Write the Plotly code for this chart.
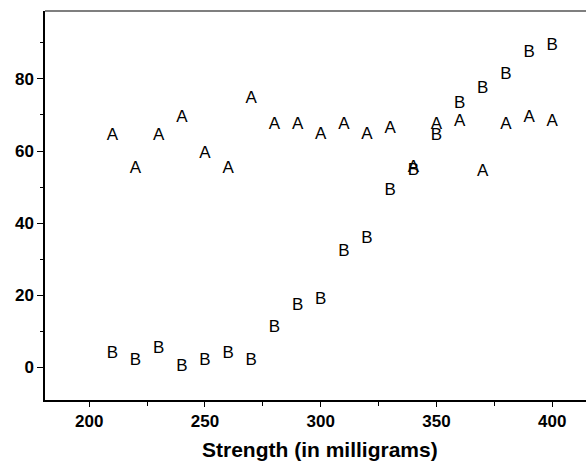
import plotly.graph_objects as go

strength = [210, 220, 230, 240, 250, 260, 270, 280, 290, 300,
            310, 320, 330, 340, 350, 360, 370, 380, 390, 400]
group_a = [64.3, 55.0, 64.3, 69.1, 59.2, 55.0, 74.4, 67.2, 67.2, 64.4,
           67.2, 64.4, 66.3, 55.5, 67.2, 68.1, 54.3, 67.2, 69.1, 68.1]
group_b = [3.9, 2.0, 5.2, 0.2, 2.0, 3.9, 2.0, 11.0, 17.2, 18.9,
           32.0, 35.7, 49.0, 54.5, 64.3, 73.2, 77.2, 81.1, 87.2, 89.3]
x_ticks = [200, 250, 300, 350, 400]
y_ticks = [0, 20, 40, 60, 80]
x_title = "Strength (in milligrams)"

FONT = "Liberation Sans, Arial, sans-serif"

fig = go.Figure()
fig.add_trace(go.Scatter(x=strength, y=group_a, mode="text", text=["A"] * len(strength),
                         textposition="middle center",
                         textfont=dict(family=FONT, size=17, color="black"),
                         showlegend=False, hoverinfo="skip"))
fig.add_trace(go.Scatter(x=strength, y=group_b, mode="text", text=["B"] * len(strength),
                         textposition="middle center",
                         textfont=dict(family=FONT, size=17, color="black"),
                         showlegend=False, hoverinfo="skip"))

fig.update_layout(
    width=586, height=461,
    margin=dict(l=45, r=0, t=11, b=61, autoexpand=False),
    plot_bgcolor="white", paper_bgcolor="white",
    font=dict(family=FONT, color="black"),
    showlegend=False,
    xaxis=dict(range=[180.9, 414.6], tickvals=x_ticks, automargin=False,
               ticktext=["<b>%d</b>" % v for v in x_ticks],
               tickfont=dict(size=17, family=FONT, color="black"),
               showgrid=False, zeroline=False,
               showline=True, linecolor="black", linewidth=2,
               ticks="outside", ticklen=5, tickcolor="black", tickwidth=1,
               minor=dict(dtick=25, tick0=0, ticks="outside", ticklen=4,
                          tickcolor="black", tickwidth=1, showgrid=False)),
    yaxis=dict(range=[-9, 98.8], tickvals=y_ticks, automargin=False,
               ticktext=["<b>%d</b>" % v for v in y_ticks],
               tickfont=dict(size=17, family=FONT, color="black"),
               showgrid=False, zeroline=False,
               showline=True, linecolor="black", linewidth=1.5,
               ticks="outside", ticklen=6, tickcolor="black", tickwidth=1,
               minor=dict(dtick=20, tick0=10, ticks="outside", ticklen=3,
                          tickcolor="black", tickwidth=1, showgrid=False)),
    shapes=[dict(type="line", xref="paper", yref="paper", x0=0, x1=1, y0=1, y1=1,
                 line=dict(color="black", width=1.2))],
    annotations=[dict(text="<b>%s</b>" % x_title, xref="paper", yref="paper",
                      x=0.508, y=-0.1285, xanchor="center", yanchor="middle",
                      showarrow=False, font=dict(size=21, family=FONT, color="black"))],
)

fig.write_html("out.html", config={"displayModeBar": False},
               post_script="document.body.style.margin='0';document.body.style.overflow='hidden';")
